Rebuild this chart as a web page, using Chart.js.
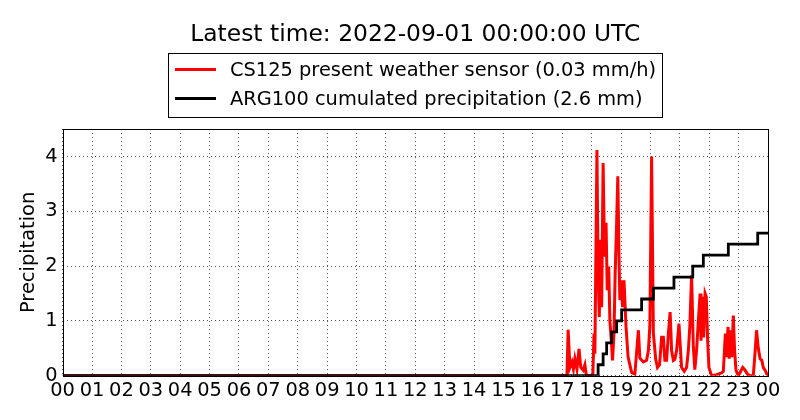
<!DOCTYPE html>
<html>
<head>
<meta charset="utf-8">
<script src="https://cdn.jsdelivr.net/npm/chart.js@4"></script>
<style>
  html, body { margin: 0; padding: 0; background: #fff; }
  #wrap { width: 800px; height: 420px; }
</style>
</head>
<body>
<div id="wrap"><canvas id="precipChart"></canvas></div>
<script>
// time of day in hours (UTC)
var redTimes = [0, 17.16, 17.20, 17.26, 17.33, 17.38, 17.43, 17.50, 17.57, 17.63, 17.71, 17.77, 17.82,
    18.04, 18.08, 18.11, 18.18, 18.22, 18.26, 18.30, 18.34, 18.39, 18.44, 18.49, 18.53, 18.58, 18.62,
    18.67, 18.71, 18.76, 18.80, 18.85, 18.89, 18.93, 18.96, 19.01, 19.05, 19.10, 19.17, 19.24, 19.36,
    19.47, 19.59, 19.64, 19.76, 19.87, 19.93, 19.98, 20.04, 20.10, 20.18, 20.24, 20.31, 20.38, 20.44,
    20.49, 20.55, 20.61, 20.67, 20.72, 20.78, 20.83, 20.89, 20.97, 21.01, 21.06, 21.15, 21.23, 21.29,
    21.34, 21.40, 21.46, 21.51, 21.57, 21.63, 21.69, 21.72, 21.76, 21.81, 21.86, 21.90, 21.95, 21.99,
    22.08, 22.25, 22.42, 22.48, 22.55, 22.59, 22.64, 22.68, 22.73, 22.77, 22.82, 22.86, 22.91, 22.99,
    23.05, 23.14, 23.22, 23.30, 23.39, 23.50, 23.57, 23.61, 23.67, 23.73, 23.79, 23.84, 23.90, 23.96, 24.0];
var redValues = [0, 0, 0.84, 0.15, 0.25, 0.12, 0.31, 0.12, 0.49, 0.15, 0.10, 0.20, 0,
    0, 0.77, 0.40, 4.12, 1.87, 1.07, 2.48, 1.25, 3.88, 2.17, 2.79, 1.56, 1.99, 1.00,
    0.64, 0.28, 0.77, 1.87, 2.79, 3.64, 2.17, 1.38, 1.74, 1.25, 1.74, 0.89, 0.34, 0.06,
    0.03, 0.83, 0.32, 0.25, 0.28, 0.46, 0.90, 4.00, 0.77, 0.30, 0.15, 0.20, 0.70, 0.70,
    0.28, 0.28, 0.77, 1.16, 0.46, 0.28, 0.30, 0.46, 0.95, 0.59, 0.15, 0.08, 0.15, 0.46,
    0.90, 1.83, 0.52, 0.11, 0.46, 1.00, 1.50, 0.64, 1.44, 0.70, 1.50, 1.44, 0.59, 0.15,
    0, 0.02, 0.05, 0.08, 0.77, 0.34, 0.89, 0.31, 0.83, 0.34, 1.10, 0.50, 0.10, 0,
    0.06, 0.15, 0.10, 0.03, 0, 0, 0.50, 0.83, 0.50, 0.31, 0.28, 0.15, 0.10, 0.03, 0.03];

var blackTimes = [0, 18.22, 18.39, 18.51, 18.68, 18.85, 19.02, 19.70, 20.10, 20.80, 21.44, 21.80, 22.65, 23.65, 24.0];
var blackValues = [0, 0.2, 0.4, 0.6, 0.8, 1.0, 1.2, 1.4, 1.6, 1.8, 2.0, 2.2, 2.4, 2.6, 2.6];

var seriesLabels = ["CS125 present weather sensor (0.03 mm/h)", "ARG100 cumulated precipitation (2.6 mm)"];
var xTicks = [0, 1, 2, 3, 4, 5, 6, 7, 8, 9, 10, 11, 12, 13, 14, 15, 16, 17, 18, 19, 20, 21, 22, 23, 24];
var xTickLabels = ["00", "01", "02", "03", "04", "05", "06", "07", "08", "09", "10", "11", "12",
    "13", "14", "15", "16", "17", "18", "19", "20", "21", "22", "23", "00"];
var yTicks = [0, 1, 2, 3, 4];

function toPoints(xs, ys) {
    var pts = [];
    for (var i = 0; i < xs.length; i++) {
        pts.push({ x: xs[i], y: ys[i] });
    }
    return pts;
}

var fontFamily = "'DejaVu Sans', sans-serif";

// full box round the plot area, plus a framed legend centred over it
var framePlugin = {
    id: "frame",
    afterDraw: function (chart) {
        var ctx = chart.ctx;
        var a = chart.chartArea;
        ctx.save();
        ctx.strokeStyle = "#000";
        ctx.lineWidth = 1;
        ctx.strokeRect(Math.round(a.left) + 0.5, Math.round(a.top) + 0.5,
            Math.round(a.right - a.left), Math.round(a.bottom - a.top));

        ctx.font = "19.4px " + fontFamily;
        var textW = 0;
        chart.data.datasets.forEach(function (ds) {
            textW = Math.max(textW, ctx.measureText(ds.label).width);
        });
        var boxW = 7 + 41 + 14 + textW + 6;
        var boxL = Math.round((a.left + a.right) / 2 - boxW / 2);
        var boxT = Math.round(a.top) - 76;
        ctx.fillStyle = "#fff";
        ctx.fillRect(boxL, boxT, boxW, 64);
        ctx.strokeRect(boxL + 0.5, boxT + 0.5, Math.round(boxW), 64);

        ctx.textBaseline = "middle";
        ctx.textAlign = "left";
        chart.data.datasets.forEach(function (ds, i) {
            var rowY = boxT + 16.5 + i * 29;
            ctx.strokeStyle = ds.borderColor;
            ctx.lineWidth = 3;
            ctx.beginPath();
            ctx.moveTo(boxL + 7, rowY);
            ctx.lineTo(boxL + 48, rowY);
            ctx.stroke();
            ctx.fillStyle = "#000";
            ctx.fillText(ds.label, boxL + 62, rowY + 1);
        });
        ctx.restore();
    }
};

var ctx = document.getElementById("precipChart").getContext("2d");
var precipChart = new Chart(ctx, {
    type: "line",
    data: {
        datasets: [
            {
                label: seriesLabels[0],
                data: toPoints(redTimes, redValues),
                borderColor: "#ff0000",
                backgroundColor: "#ff0000",
                borderWidth: 3,
                pointRadius: 0,
                tension: 0,
                order: 2,
            },
            {
                label: seriesLabels[1],
                data: toPoints(blackTimes, blackValues),
                borderColor: "#000000",
                backgroundColor: "#000000",
                borderWidth: 2.8,
                pointRadius: 0,
                stepped: "before",
                order: 1,
            },
        ],
    },
    options: {
        responsive: true,
        maintainAspectRatio: false,
        animation: false,
        layout: {
            padding: { left: 13, right: 32, top: 0, bottom: 13 },
        },
        plugins: {
            title: {
                display: true,
                fullSize: false,
                text: "Latest time: 2022-09-01 00:00:00 UTC",
                color: "#000",
                font: { family: fontFamily, size: 23.4, weight: "normal" },
                padding: { top: 21, bottom: 80 },
            },
            legend: { display: false },
            tooltip: { enabled: false },
        },
        scales: {
            x: {
                type: "linear",
                min: 0,
                max: 24,
                afterBuildTicks: function (scale) {
                    scale.ticks = xTicks.map(function (v) { return { value: v }; });
                },
                ticks: {
                    color: "#000",
                    font: { family: fontFamily, size: 19.4 },
                    padding: 4,
                    maxRotation: 0,
                    autoSkip: false,
                    callback: function (value, index) { return xTickLabels[index]; },
                },
                grid: { color: "rgba(0,0,0,0.85)", lineWidth: 0.8, drawTicks: false },
                border: { display: false, dash: [1, 3] },
            },
            y: {
                min: 0,
                max: 4.5,
                afterBuildTicks: function (scale) {
                    scale.ticks = yTicks.map(function (v) { return { value: v }; });
                },
                title: {
                    display: true,
                    text: "Precipitation",
                    color: "#000",
                    font: { family: fontFamily, size: 19.4 },
                    padding: { top: 4, bottom: 0 },
                },
                ticks: {
                    color: "#000",
                    font: { family: fontFamily, size: 19.4 },
                    padding: 5,
                    callback: function (value) { return String(value); },
                },
                grid: { color: "rgba(0,0,0,0.85)", lineWidth: 0.8, drawTicks: false },
                border: { display: false, dash: [1, 3] },
            },
        },
    },
    plugins: [framePlugin],
});
</script>
</body>
</html>
